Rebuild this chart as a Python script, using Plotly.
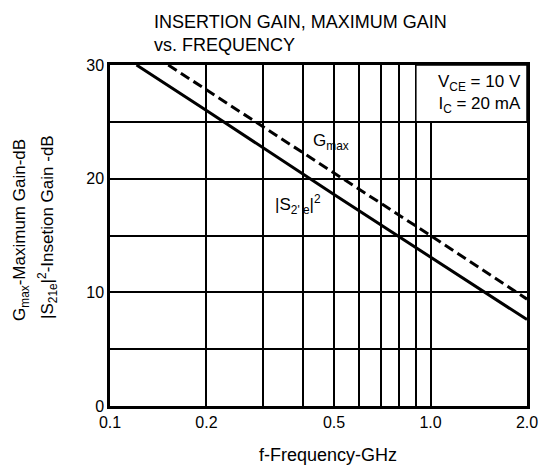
import math
import plotly.graph_objects as go

# Data
freq_s21 = [0.121, 0.2, 0.5, 1.0, 2.0]
gain_s21 = [30.0, 26.0, 18.6, 13.1, 7.6]
freq_gmax = [0.152, 0.2, 0.5, 1.0, 2.0]
gain_gmax = [30.0, 27.8, 20.5, 15.0, 9.4]

x_tickvals = [0.1, 0.2, 0.5, 1.0, 2.0]
x_ticktext = ["0.1", "0.2", "0.5", "1.0", "2.0"]
x_minor = [0.3, 0.4, 0.6, 0.7, 0.8, 0.9]
y_tickvals = [0, 10, 20, 30]
y_ticktext = ["0", "10", "20", "30"]
y_minor = [5, 15, 25]

FONT = "Liberation Sans, Arial, Helvetica, sans-serif"

fig = go.Figure()
fig.add_trace(go.Scatter(x=freq_s21, y=gain_s21, mode="lines",
                         line=dict(color="black", width=3), showlegend=False))
fig.add_trace(go.Scatter(x=freq_gmax, y=gain_gmax, mode="lines",
                         line=dict(color="black", width=3, dash="10px,5px"), showlegend=False))

# page body has an 8px margin, so the figure is sized/offset to compensate
fig.update_layout(
    width=541, height=463,
    margin=dict(l=102, r=22, t=57, b=65),
    paper_bgcolor="white", plot_bgcolor="white",
    font=dict(family=FONT, size=16, color="black"),
    xaxis=dict(type="log", range=[-1, 0.30103], tickvals=x_tickvals, ticktext=x_ticktext,
               showgrid=True, gridcolor="black", gridwidth=1.5,
               minor=dict(tickvals=x_minor, showgrid=True, gridcolor="black", gridwidth=1.5, ticks=""),
               showline=True, linecolor="black", linewidth=2.5, mirror=True,
               ticks="", zeroline=False, tickfont=dict(size=16)),
    yaxis=dict(range=[0, 30], tickvals=y_tickvals, ticktext=y_ticktext,
               showgrid=True, gridcolor="black", gridwidth=1.5,
               minor=dict(tickvals=y_minor, showgrid=True, gridcolor="black", gridwidth=1.5, ticks=""),
               showline=True, linecolor="black", linewidth=2.5, mirror=True,
               ticks="", zeroline=False, tickfont=dict(size=16)),
)

# Condition box
fig.add_shape(type="rect", x0=0.9, x1=2.0, y0=25, y1=30, xref="x", yref="y",
              fillcolor="white", line=dict(color="black", width=1.5), layer="above")
fig.add_annotation(x=0.99, xref="paper", y=29.6, yref="y", xanchor="right", yanchor="top",
                   text="V<sub>CE</sub> = 10 V<br>I<sub>C</sub> = 20 mA", showarrow=False,
                   align="right", font=dict(size=17))

# Curve labels (annotation x on a log axis is given in log10 units)
fig.add_annotation(x=math.log10(0.49), y=23.2, xref="x", yref="y", text="G<sub>max</sub>",
                   showarrow=False, font=dict(size=17))
fig.add_annotation(x=math.log10(0.386), y=17.7, xref="x", yref="y",
                   text="|S<sub>2' e</sub>|<sup>2</sup>", showarrow=False, font=dict(size=17))

# Title
fig.add_annotation(x=(152 - 110) / 417, xref="paper", y=(406 - 10) / 341, yref="paper",
                   xanchor="left", yanchor="top", align="left", showarrow=False,
                   text="INSERTION GAIN, MAXIMUM GAIN<br>vs. FREQUENCY", font=dict(size=18))

# Axis titles
fig.add_annotation(x=(328 - 110) / 417, xref="paper", y=-(455 - 406) / 341, yref="paper",
                   xanchor="center", yanchor="middle",
                   text="f-Frequency-GHz", showarrow=False, font=dict(size=18))
fig.add_annotation(x=(21 - 110) / 417, xref="paper", y=(406 - 230) / 341, yref="paper", textangle=-90,
                   xanchor="center", yanchor="middle", showarrow=False,
                   text="G<sub>max</sub>-Maximum Gain-dB", font=dict(size=17))
fig.add_annotation(x=(47 - 110) / 417, xref="paper", y=(406 - 227) / 341, yref="paper", textangle=-90,
                   xanchor="center", yanchor="middle", showarrow=False,
                   text="|S<sub>21e</sub>|<sup>2</sup>-Insetion Gain -dB", font=dict(size=17))

fig.write_html("out.html")
